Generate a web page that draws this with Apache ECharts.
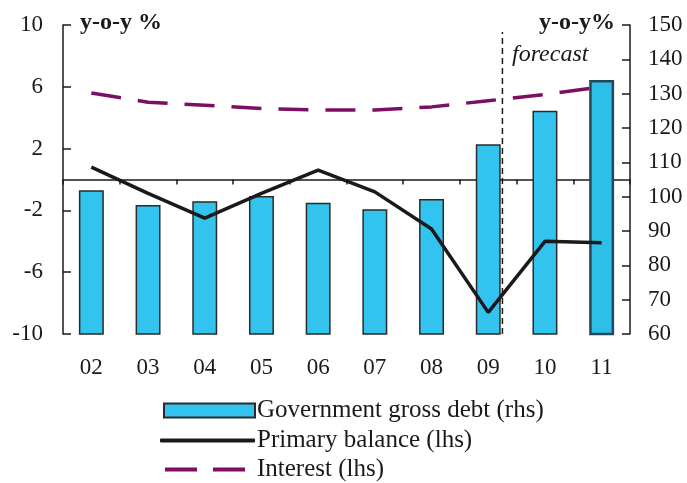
<!DOCTYPE html>
<html><head><meta charset="utf-8">
<script src="https://cdn.jsdelivr.net/npm/echarts@6/dist/echarts.min.js"></script>
<style>html,body{margin:0;padding:0;background:#fff}#c{width:687px;height:483px}</style>
</head><body><div id="c"></div>
<script>
const categories = ['02','03','04','05','06','07','08','09','10','11'];
const debt = [101.9, 97.6, 98.7, 100.2, 98.2, 96.3, 99.3, 115.3, 125.0, 134.0];
const primaryBalance = [0.8, -0.9, -2.5, -0.9, 0.6, -0.8, -3.2, -8.6, -4.0, -4.1];
const interest = [5.6, 5.0, 4.8, 4.6, 4.5, 4.5, 4.7, 5.1, 5.5, 6.0];
const forecastStart = 7.25;      // between '09' and '10' (category index units)
const forecastLine = [[forecastStart, -10], [forecastStart, 9.55]];
const leftAxis = {min: -10, max: 10, interval: 4};
const rightAxis = {min: 60, max: 150, interval: 10};
const names = ['Government gross debt (rhs)', 'Primary balance (lhs)', 'Interest (lhs)'];

const font = 'Liberation Serif';
const txt = '#1a1a1a';
const legendText = {fontFamily: font, fontSize: 25, color: txt};
const chart = echarts.init(document.getElementById('c'));
chart.setOption({
  animation: false,
  backgroundColor: '#fff',
  textStyle: {fontFamily: font, color: txt},
  grid: {left: 63, right: 57, top: 25, bottom: 149},
  xAxis: [
    {type: 'category', data: categories, position: 'bottom',
     axisLine: {onZero: true, lineStyle: {color: '#1a1a1a', width: 1.5}},
     axisTick: {show: true, inside: false, length: 5, lineStyle: {color: '#1a1a1a', width: 1.5}},
     axisLabel: {show: false}},
    {type: 'category', data: categories, position: 'bottom',
     axisLine: {show: false, onZero: false}, axisTick: {show: false},
     axisLabel: {show: true, fontFamily: font, fontSize: 23, color: txt, margin: 22}},
    {type: 'value', min: -0.5, max: 9.5, show: false}
  ],
  yAxis: [
    {type: 'value', min: leftAxis.min, max: leftAxis.max, interval: leftAxis.interval, position: 'left',
     splitLine: {show: false},
     axisLine: {show: true, onZero: false, lineStyle: {color: '#1a1a1a', width: 1.5}},
     axisTick: {show: true, inside: true, length: 8, lineStyle: {color: '#1a1a1a', width: 1.5}},
     axisLabel: {fontFamily: font, fontSize: 23, color: txt, margin: 20}},
    {type: 'value', min: rightAxis.min, max: rightAxis.max, interval: rightAxis.interval, position: 'right',
     splitLine: {show: false},
     axisLine: {show: true, onZero: false, lineStyle: {color: '#1a1a1a', width: 1.5}},
     axisTick: {show: true, inside: true, length: 8, lineStyle: {color: '#1a1a1a', width: 1.5}},
     axisLabel: {fontFamily: font, fontSize: 23, color: txt, margin: 18}}
  ],
  legend: [
    {left: 158, top: 393, itemWidth: 91, itemHeight: 14, symbolKeepAspect: false,
     data: [{name: names[0], icon: 'rect'}],
     textStyle: Object.assign({padding: [0, 0, 0, -3]}, legendText)},
    {left: 155, top: 423, itemWidth: 95, itemHeight: 4, symbolKeepAspect: false,
     data: [{name: names[1], icon: 'roundRect', itemStyle: {borderWidth: 0}}],
     textStyle: Object.assign({padding: [0, 0, 0, -3]}, legendText)},
    {left: 160, top: 452, itemWidth: 80, itemHeight: 4, symbolKeepAspect: false,
     data: [{name: names[2], icon: 'path://M0,0h32v4h-32z M48,0h32v4h-32z', itemStyle: {borderWidth: 0}}],
     textStyle: Object.assign({padding: [0, 0, 0, 7]}, legendText)}
  ],
  graphic: [
    {type: 'text', left: 80, top: 11, style: {text: 'y-o-y %', font: 'bold 24px "Liberation Serif"', fill: txt}},
    {type: 'text', left: 539, top: 11, style: {text: 'y-o-y%', font: 'bold 24px "Liberation Serif"', fill: txt}},
    {type: 'text', left: 512, top: 43, style: {text: 'forecast', font: 'italic 24px "Liberation Serif"', fill: txt}}
  ],
  series: [
    {name: names[0], type: 'bar', xAxisIndex: 0, yAxisIndex: 1,
     data: debt.map((v, i) => i === debt.length - 1
       ? {value: v, itemStyle: {borderColor: '#24485a', borderWidth: 2.5, color: '#2ebfe9'}}
       : v),
     barWidth: '44%',
     itemStyle: {color: '#33c3ef', borderColor: '#2a2a2a', borderWidth: 1.5}},
    {name: names[1], type: 'line', xAxisIndex: 0, yAxisIndex: 0,
     data: primaryBalance, symbol: 'none', z: 5,
     lineStyle: {color: '#1a1a1a', width: 3.5}, itemStyle: {color: '#1a1a1a'}},
    {name: names[2], type: 'line', xAxisIndex: 0, yAxisIndex: 0,
     data: interest, symbol: 'none', z: 5,
     lineStyle: {color: '#7d0f63', width: 3.5, type: [30, 17]}, itemStyle: {color: '#7d0f63'}},
    {name: 'forecast', type: 'line', xAxisIndex: 2, yAxisIndex: 0,
     data: forecastLine, symbol: 'none', z: 6,
     lineStyle: {color: '#1a1a1a', width: 1.5, type: [6, 4]}}
  ]
});
</script></body></html>
